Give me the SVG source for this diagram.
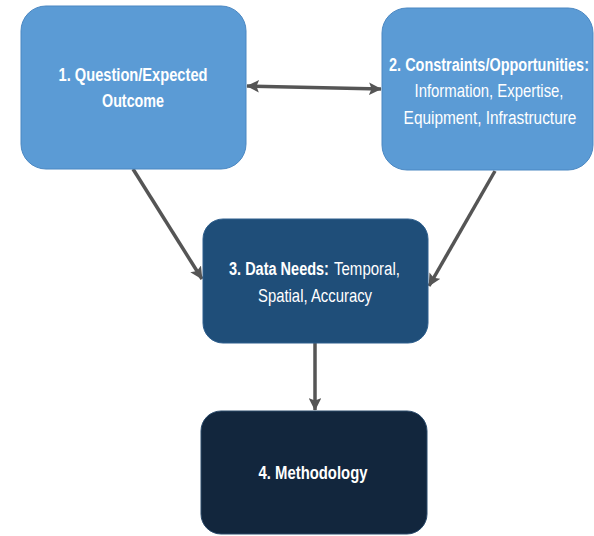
<svg xmlns="http://www.w3.org/2000/svg" width="594" height="536" viewBox="0 0 594 536">
<defs>
<style>
.t{font-family:"Liberation Sans",Arial,sans-serif;font-size:19px;fill:#ffffff;text-anchor:middle}
.s{text-anchor:start}
.b{font-weight:bold}
.lt{fill:#5B9BD5;stroke:#4A87C2;stroke-width:1}
.c{stroke:#555555;stroke-width:3.5;fill:none}
</style>
<marker id="ah" viewBox="0 0 10 10" refX="9.5" refY="5" markerWidth="3.6" markerHeight="3.6" orient="auto-start-reverse" markerUnits="strokeWidth">
<path d="M0,0 L10,5 L0,10 L2,5 z" fill="#555555"/>
</marker>
</defs>
<rect width="594" height="536" fill="#ffffff"/>
<g id="connectors">
<line class="c" x1="247" y1="86" x2="381" y2="89" marker-start="url(#ah)" marker-end="url(#ah)"/>
<line class="c" x1="133" y1="169" x2="202" y2="279" marker-end="url(#ah)"/>
<line class="c" x1="495" y1="171" x2="429" y2="286" marker-end="url(#ah)"/>
<line class="c" x1="315" y1="343" x2="315" y2="410" marker-end="url(#ah)"/>
</g>
<g id="node1">
<rect class="lt" x="21" y="6" width="225" height="163" rx="25" ry="25"/>
<text class="t b" transform="translate(133,81) scale(0.772,1)" textLength="193" lengthAdjust="spacingAndGlyphs">1. Question/Expected</text>
<text class="t b" transform="translate(133,107) scale(0.753,1)" textLength="82.3" lengthAdjust="spacingAndGlyphs">Outcome</text>
</g>
<g id="node2">
<rect class="lt" x="382" y="8" width="211" height="162" rx="25" ry="25"/>
<text class="t b" transform="translate(489,71) scale(0.76,1)" textLength="263" lengthAdjust="spacingAndGlyphs">2. Constraints/Opportunities:</text>
<text class="t" transform="translate(489,97) scale(0.784,1)" textLength="190" lengthAdjust="spacingAndGlyphs">Information, Expertise,</text>
<text class="t" transform="translate(490,124) scale(0.81,1)" textLength="213.3" lengthAdjust="spacingAndGlyphs">Equipment, Infrastructure</text>
</g>
<g id="node3">
<rect x="203" y="219" width="225" height="124" rx="20" ry="20" fill="#1F4E79" stroke="#2E5F8E" stroke-width="1"/>
<text class="t s b" transform="translate(229,275) scale(0.763,1)" textLength="131" lengthAdjust="spacingAndGlyphs">3. Data Needs:</text>
<text class="t s" transform="translate(334,275) scale(0.772,1)" textLength="85.5" lengthAdjust="spacingAndGlyphs">Temporal,</text>
<text class="t" transform="translate(315,302) scale(0.777,1)" textLength="146.8" lengthAdjust="spacingAndGlyphs">Spatial, Accuracy</text>
</g>
<g id="node4">
<rect x="201" y="411" width="226" height="123" rx="20" ry="20" fill="#12263D" stroke="#2A4A6B" stroke-width="1"/>
<text class="t b" transform="translate(313,479) scale(0.782,1)" textLength="139.3" lengthAdjust="spacingAndGlyphs">4. Methodology</text>
</g>
</svg>
